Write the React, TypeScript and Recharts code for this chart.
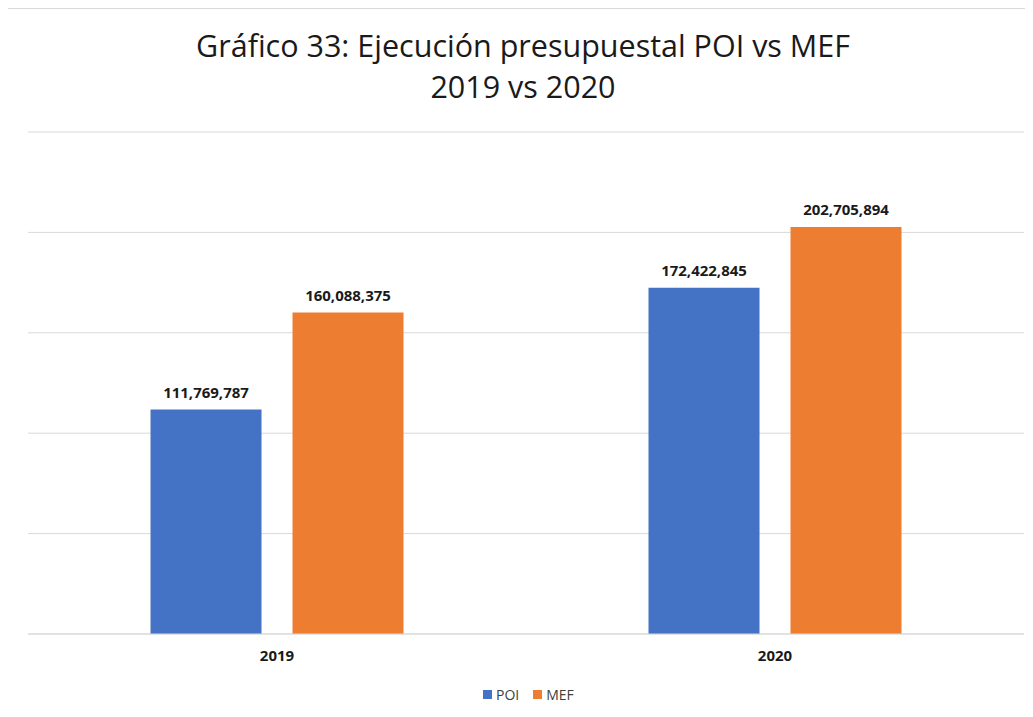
import React from 'react';
import { BarChart, Bar, XAxis, YAxis, CartesianGrid, LabelList } from 'recharts';

const years = ['2019', '2020'];
const poiValues = [111769787, 172422845];
const mefValues = [160088375, 202705894];
const yTicks = [0, 50000000, 100000000, 150000000, 200000000, 250000000];

const POI_COLOR = '#4472c4';
const MEF_COLOR = '#ed7d31';
const FONT = '"Open Sans", "Liberation Sans", sans-serif';

const data = years.map((year, i) => ({ year, POI: poiValues[i], MEF: mefValues[i] }));

const fmt = (v: any) => Number(v).toLocaleString('en-US');

// legend drawn by hand so it sits like the Excel one
function LegendBox() {
  const item = (color: string, text: string) => (
    <span style={{ display: 'inline-flex', alignItems: 'center', marginRight: 14 }}>
      <span style={{ width: 9, height: 9, background: color, display: 'inline-block', marginRight: 4 }} />
      <span>{text}</span>
    </span>
  );
  return (
    <div
      style={{
        position: 'absolute',
        top: 676,
        left: 475,
        fontFamily: FONT,
        fontSize: 14,
        color: '#404040',
        display: 'flex',
        alignItems: 'center',
      }}
    >
      {item(POI_COLOR, 'POI')}
      {item(MEF_COLOR, 'MEF')}
    </div>
  );
}

export default function App() {
  return (
    <div
      style={{
        position: 'relative',
        width: 1024,
        height: 709,
        borderLeft: '1px solid #d9d9d9',
        borderTop: '1px solid #d9d9d9',
        background: '#fff',
        overflow: 'hidden',
        marginLeft: -1,
      }}
    >
      <div
        style={{
          position: 'absolute',
          top: 16,
          left: 0,
          width: 1030,
          textAlign: 'center',
          fontFamily: FONT,
          fontSize: 30.5,
          lineHeight: '41px',
          color: '#1a1a1a',
        }}
      >
        Gráfico 33: Ejecución presupuestal POI vs MEF
        <br />
        2019 vs 2020
      </div>
      <div style={{ position: 'absolute', top: 0, left: 0 }}>
        <BarChart
          width={1024}
          height={708}
          data={data}
          margin={{ top: 123, right: 8, bottom: 53, left: 20 }}
          barCategoryGap="24.6%"
          barGap={31}
        >
          <CartesianGrid vertical={false} stroke="#d9d9d9" />
          <XAxis
            dataKey="year"
            height={30}
            axisLine={{ stroke: '#d9d9d9' }}
            tickLine={false}
            tick={{ fontFamily: FONT, fontSize: 15, fontWeight: 700, fill: '#1a1a1a' }}
            tickMargin={10}
          />
          <YAxis hide domain={[0, 250000000]} ticks={yTicks} />
          <Bar dataKey="POI" fill={POI_COLOR} isAnimationActive={false}>
            <LabelList
              dataKey="POI"
              position="top"
              offset={12}
              formatter={fmt}
              style={{ fontFamily: FONT, fontSize: 15, fontWeight: 700, fill: '#1a1a1a' }}
            />
          </Bar>
          <Bar dataKey="MEF" fill={MEF_COLOR} isAnimationActive={false}>
            <LabelList
              dataKey="MEF"
              position="top"
              offset={12}
              formatter={fmt}
              style={{ fontFamily: FONT, fontSize: 15, fontWeight: 700, fill: '#1a1a1a' }}
            />
          </Bar>
        </BarChart>
      </div>
      <LegendBox />
    </div>
  );
}
